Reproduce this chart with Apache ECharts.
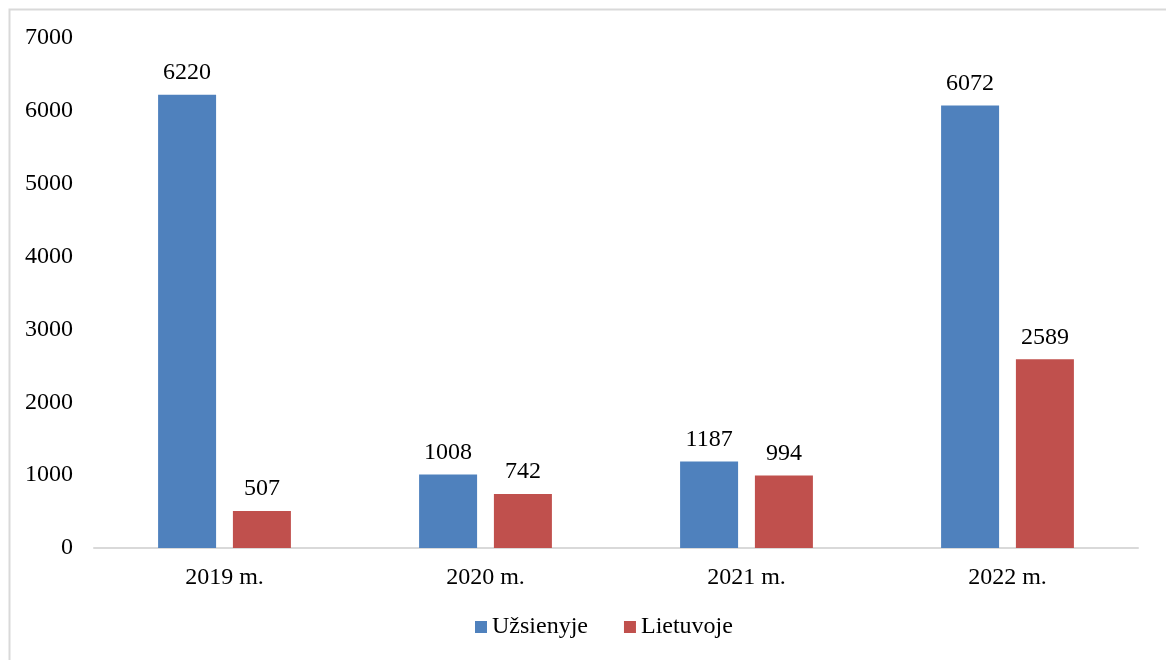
<!DOCTYPE html>
<html><head><meta charset="utf-8">
<script src="https://cdn.jsdelivr.net/npm/echarts@6/dist/echarts.min.js"></script>
<style>html,body{margin:0;padding:0;background:#fff}#c{width:1166px;height:660px}</style>
</head><body><div id="c"></div>
<script>
const categories = ['2019 m.', '2020 m.', '2021 m.', '2022 m.'];
const uzsienyje = [6220, 1008, 1187, 6072];
const lietuvoje = [507, 742, 994, 2589];
const seriesNames = ['Užsienyje', 'Lietuvoje'];

const font = 'Liberation Serif, Times New Roman, serif';
const chart = echarts.init(document.getElementById('c'));
const lbl = {show: true, position: 'top', distance: 10, color: '#000', fontFamily: font, fontSize: 24};
chart.setOption({
  animation: false,
  graphic: [{type: 'rect', left: 7, top: 7, shape: {width: 1200, height: 700},
    style: {fill: 'none', stroke: '#d9d9d9', lineWidth: 2}, silent: true}],
  grid: {left: 94, right: 28, top: 38, bottom: 112},
  legend: {top: 610, left: 470, itemWidth: 12, itemHeight: 12, itemGap: 36,
    icon: 'rect', data: seriesNames,
    textStyle: {fontFamily: font, fontSize: 24, color: '#000'}},
  xAxis: {type: 'category', data: categories,
    axisLine: {lineStyle: {color: '#d9d9d9', width: 2}}, axisTick: {show: false},
    axisLabel: {color: '#000', fontFamily: font, fontSize: 24, margin: 18}},
  yAxis: {type: 'value', min: 0, max: 7000, interval: 1000,
    splitLine: {show: false}, axisLine: {show: false}, axisTick: {show: false},
    axisLabel: {color: '#000', fontFamily: font, fontSize: 24, margin: 21,
      formatter: v => String(v)}},
  series: [
    {name: seriesNames[0], type: 'bar', data: uzsienyje, barWidth: 58, barGap: '29%',
     itemStyle: {color: '#4F81BD'}, label: lbl},
    {name: seriesNames[1], type: 'bar', data: lietuvoje, barWidth: 58,
     itemStyle: {color: '#C0504D'}, label: lbl}
  ]
});
</script></body></html>
